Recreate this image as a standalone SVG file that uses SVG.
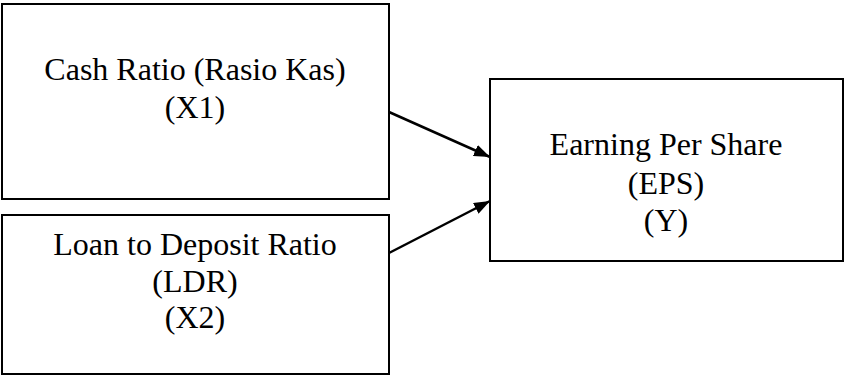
<svg xmlns="http://www.w3.org/2000/svg" width="845" height="377" viewBox="0 0 845 377">
<style>
.box{fill:#fff;stroke:#000;stroke-width:2}
.t{font-family:"Liberation Serif","Times New Roman",serif;font-size:32px;fill:#000;text-anchor:middle}
.c{stroke:#000;stroke-width:2.5;fill:none}
</style>
<defs>
<marker id="ah" viewBox="0 0 16 12" refX="16" refY="6" markerWidth="16" markerHeight="12" markerUnits="userSpaceOnUse" orient="auto">
<path d="M0,0 L16,6 L0,12 z" fill="#000"/>
</marker>
</defs>
<rect width="845" height="377" fill="#fff"/>
<g id="x1">
<rect class="box" x="2" y="4" width="387" height="195"/>
<text class="t" x="195" y="80">Cash Ratio (Rasio Kas)</text>
<text class="t" x="195" y="118">(X1)</text>
</g>
<g id="x2">
<rect class="box" x="2" y="215" width="387" height="159"/>
<text class="t" x="195" y="255">Loan to Deposit Ratio</text>
<text class="t" x="195" y="292">(LDR)</text>
<text class="t" x="195" y="328">(X2)</text>
</g>
<g id="y">
<rect class="box" x="490" y="79" width="353" height="182"/>
<text class="t" x="666" y="155">Earning Per Share</text>
<text class="t" x="666" y="194">(EPS)</text>
<text class="t" x="666" y="231">(Y)</text>
</g>
<g id="connectors">
<line class="c" x1="389" y1="112" x2="490" y2="157" marker-end="url(#ah)"/>
<line class="c" x1="389" y1="253" x2="490" y2="201" marker-end="url(#ah)"/>
</g>
</svg>
